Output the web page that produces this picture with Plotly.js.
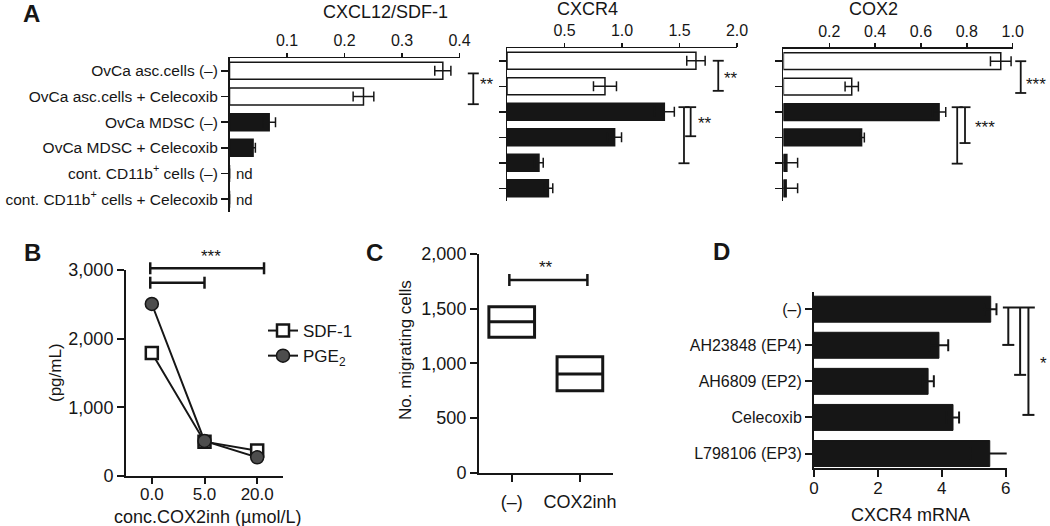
<!DOCTYPE html>
<html><head><meta charset="utf-8">
<script src="https://cdn.plot.ly/plotly-3.0.1.min.js"></script>
<style>html,body{margin:0;padding:0;background:#fff}#chart{width:1050px;height:526px}</style>
</head><body><div id="chart"></div>
<script>
// ---------------- data ----------------
const aCategories = ['OvCa asc.cells (–)', 'OvCa asc.cells + Celecoxib', 'OvCa MDSC (–)', 'OvCa MDSC + Celecoxib',
  'cont. CD11b<sup>+</sup> cells (–)', 'cont. CD11b<sup>+</sup> cells + Celecoxib'];
const sdfValues = [0.371, 0.233, 0.069, 0.041, 0, 0];
const sdfErrors = [0.014, 0.018, 0.011, 0.004, 0, 0];
const sdfNotDetected = ['', '', '', '', 'nd', 'nd'];
const cxcr4Values = [1.643, 0.852, 1.368, 0.936, 0.278, 0.36];
const cxcr4Errors = [0.08, 0.10, 0.087, 0.06, 0.037, 0.038];
const cox2Values = [0.948, 0.298, 0.679, 0.341, 0.015, 0.012];
const cox2Errors = [0.045, 0.029, 0.029, 0.012, 0.047, 0.05];

const bConc = ['0.0', '5.0', '20.0'];
const bSdf1 = [1790, 500, 370];
const bPge2 = [2505, 510, 272];

const cGroups = ['(–)', 'COX2inh'];
const cQ1 = [1238, 750];
const cMedian = [1381, 902];
const cQ3 = [1518, 1061];

const dTreatments = ['(–)', 'AH23848 (EP4)', 'AH6809 (EP2)', 'Celecoxib', 'L798106 (EP3)'];
const dValues = [5.53, 3.91, 3.57, 4.35, 5.5];
const dErrors = [0.18, 0.29, 0.18, 0.19, 0.6];

// significance brackets (in each panel's data units)
const vBrackets = [ // panel, x value, from row, to row
  ['a1', 0.424, 0.1, 1.3], ['a2', 1.837, 0, 1.18], ['a2', 1.597, 1.82, 2.96], ['a2', 1.539, 1.82, 4.02],
  ['a3', 1.035, 0, 1.25], ['a3', 0.792, 1.81, 3.22], ['a3', 0.758, 1.81, 4.03],
  ['d', 6.08, -0.05, 0.99], ['d', 6.45, -0.05, 1.82], ['d', 6.71, -0.05, 2.93]
];
const hBrackets = [ // panel, from category, to category, y value
  ['b', -0.03, 2.13, 3025], ['b', -0.03, 1.0, 2815], ['c', -0.035, 1.11, 1762]
];
const stars = [ // panel, x, y, text
  ['a1', 0.448, 0.55, '**'], ['a2', 1.95, 0.7, '**'], ['a2', 1.72, 2.45, '**'],
  ['a3', 1.1, 0.9, '***'], ['a3', 0.88, 2.6, '***'], ['d', 7.17, 1.5, '*'],
  ['b', 1.12, 3190, '***'], ['c', 0.5, 1880, '**']
];

// ---------------- geometry ----------------
const W = 1050, H = 526;
const GEO = {
  a1: {x: [229.5, 459.5], xr: [0, 0.4], y: [58, 212], yr: [5.5, -0.5]},
  a2: {x: [507, 737], xr: [0, 2], y: [48, 201], yr: [5.5, -0.5]},
  a3: {x: [783.4, 1012.7], xr: [0, 1], y: [48.5, 201], yr: [5.5, -0.5]},
  b: {x: [126, 283], xr: [-0.49, 2.49], y: [270, 476], yr: [0, 3000]},
  c: {x: [479, 613.3], xr: [-0.48, 1.49], y: [254, 472.7], yr: [0, 2000]},
  d: {x: [814, 1006.7], xr: [0, 6.03], y: [291.7, 468.3], yr: [4.41, -0.485]}
};
function pxX(ax, v) { const a = GEO[ax]; return a.x[0] + (v - a.xr[0]) / (a.xr[1] - a.xr[0]) * (a.x[1] - a.x[0]); }
function pxY(ax, v) { const a = GEO[ax]; return a.y[1] - (v - a.yr[0]) / (a.yr[1] - a.yr[0]) * (a.y[1] - a.y[0]); }
function dom(ax) { const a = GEO[ax]; return {x: [a.x[0] / W, a.x[1] / W], y: [1 - a.y[1] / H, 1 - a.y[0] / H]}; }

const FONT = 'Liberation Sans, Arial, Helvetica, sans-serif';
const INK = '#161616';

function seg(x0, y0, x1, y1, w) {
  return {type: 'line', xref: 'paper', yref: 'paper', x0: x0 / W, x1: x1 / W, y0: 1 - y0 / H, y1: 1 - y1 / H,
    line: {color: INK, width: w || 2}};
}
const shapes = [];
vBrackets.forEach(([ax, xv, r0, r1]) => {
  const x = pxX(ax, xv), y0 = pxY(ax, r0), y1 = pxY(ax, r1);
  const cap = ax === 'd' ? 6 : 5.5, w = ax === 'd' ? 2 : 1.8;
  shapes.push(seg(x, y0, x, y1, w));
  if (ax !== 'd') shapes.push(seg(x - cap, y0, x + cap, y0, w));
  shapes.push(seg(x - cap, y1, x + cap, y1, w));
});
// top bar of panel D brackets
{
  const ys = pxY('d', -0.05);
  shapes.push(seg(pxX('d', 5.91), ys, pxX('d', 6.91), ys, 2));
}
hBrackets.forEach(([ax, c0, c1, yv]) => {
  const y = pxY(ax, yv), x0 = pxX(ax, c0), x1 = pxX(ax, c1);
  shapes.push(seg(x0, y, x1, y, 2.5));
  shapes.push(seg(x0, y - 6, x0, y + 6, 2.5));
  shapes.push(seg(x1, y - 6, x1, y + 6, 2.5));
});

const annotations = [];
function ann(text, x, y, size, opts) {
  annotations.push(Object.assign({text: text, x: x / W, y: 1 - y / H, xref: 'paper', yref: 'paper', showarrow: false,
    xanchor: 'center', yanchor: 'middle', font: {family: FONT, size: size, color: INK}}, opts || {}));
}
stars.forEach(([ax, xv, yv, t]) => ann(t, pxX(ax, xv), pxY(ax, yv), 17));
// panel letters
ann('<b>A</b>', 31, 13, 24); ann('<b>B</b>', 32, 252, 24); ann('<b>C</b>', 374, 252, 24); ann('<b>D</b>', 721, 251, 24);
// panel A titles
ann('CXCL12/SDF-1', 385, 12, 18); ann('CXCR4', 587, 9, 18); ann('COX2', 873, 9, 18);
// axis titles
ann('(pg/mL)', 55, 373, 17, {textangle: -90});
ann('conc.COX2inh (µmol/L)', 207, 517, 18);
ann('No. migrating cells', 405, 350, 17, {textangle: -90});
ann('CXCR4 mRNA', 910, 515, 18);
// nd labels
sdfNotDetected.forEach((t, i) => {
  if (t) annotations.push({text: t, x: 0, y: aCategories[i], xref: 'x', yref: 'y', showarrow: false,
    xanchor: 'left', yanchor: 'middle', xshift: 4, font: {family: FONT, size: 15, color: INK}});
});

// ---------------- traces ----------------
const aFill = aCategories.map((_, i) => i < 2 ? '#ffffff' : INK);
function aBar(vals, errs, n) {
  return {type: 'bar', orientation: 'h', y: aCategories, x: vals, xaxis: 'x' + n, yaxis: 'y' + n, width: 0.66,
    marker: {color: aFill, line: {color: INK, width: 1.5}},
    error_x: {type: 'data', array: errs, visible: true, color: INK, thickness: 1.5, width: 5},
    showlegend: false, hoverinfo: 'skip'};
}
const traces = [
  aBar(sdfValues, sdfErrors, ''), aBar(cxcr4Values, cxcr4Errors, '2'), aBar(cox2Values, cox2Errors, '3'),
  {type: 'scatter', mode: 'lines+markers', name: 'SDF-1', x: bConc, y: bSdf1, xaxis: 'x4', yaxis: 'y4',
    line: {color: INK, width: 2}, marker: {symbol: 'square', size: 12, color: '#ffffff', line: {color: INK, width: 2.5}}},
  {type: 'scatter', mode: 'lines+markers', name: 'PGE<sub>2</sub>', x: bConc, y: bPge2, xaxis: 'x4', yaxis: 'y4',
    line: {color: INK, width: 2}, marker: {symbol: 'circle', size: 13, color: '#4d4d4d', line: {color: INK, width: 1.5}}},
  {type: 'box', x: cGroups, q1: cQ1, median: cMedian, q3: cQ3, lowerfence: cQ1, upperfence: cQ3,
    xaxis: 'x5', yaxis: 'y5', width: 0.67, whiskerwidth: 0, boxpoints: false, fillcolor: 'rgba(255,255,255,0)',
    line: {color: INK, width: 3}, showlegend: false, hoverinfo: 'skip'},
  {type: 'bar', orientation: 'h', y: dTreatments, x: dValues, xaxis: 'x6', yaxis: 'y6', width: 0.72,
    marker: {color: INK, line: {color: INK, width: 1}},
    error_x: {type: 'data', array: dErrors, visible: true, color: INK, thickness: 2, width: 6},
    showlegend: false, hoverinfo: 'skip'}
];

// ---------------- axes ----------------
const base = {showgrid: false, zeroline: false, fixedrange: true, showline: true, linecolor: INK, tickcolor: INK,
  ticks: 'outside'};
function aXaxis(ax, n, tv, tt) {
  return Object.assign({}, base, {domain: dom(ax).x, range: GEO[ax].xr, anchor: 'y' + n, side: 'top', linewidth: 1.5,
    ticklen: 4, tickwidth: 1.5, tickvals: tv, ticktext: tt, tickfont: {family: FONT, size: 16, color: INK}});
}
function aYaxis(ax, n, labels) {
  return Object.assign({}, base, {domain: dom(ax).y, range: GEO[ax].yr, type: 'category', anchor: 'x' + n,
    linewidth: 1.5, ticklen: 7, tickwidth: 1.5, showticklabels: labels, tickfont: {family: FONT, size: 15.5, color: INK}});
}
const layout = {
  width: W, height: H, autosize: false, margin: {l: 0, r: 0, t: 0, b: 0},
  paper_bgcolor: '#ffffff', plot_bgcolor: 'rgba(0,0,0,0)', font: {family: FONT, color: INK},
  bargap: 0,
  xaxis: aXaxis('a1', '', [0.1, 0.2, 0.3, 0.4], ['0.1', '0.2', '0.3', '0.4']),
  yaxis: aYaxis('a1', '', true),
  xaxis2: aXaxis('a2', '2', [0.5, 1, 1.5, 2], ['0.5', '1.0', '1.5', '2.0']),
  yaxis2: aYaxis('a2', '2', false),
  xaxis3: aXaxis('a3', '3', [0.2, 0.4, 0.6, 0.8, 1.0], ['0.2', '0.4', '0.6', '0.8', '1.0']),
  yaxis3: aYaxis('a3', '3', false),
  xaxis4: Object.assign({}, base, {domain: dom('b').x, range: GEO.b.xr, type: 'category', anchor: 'y4',
    linewidth: 2, ticklen: 6, tickwidth: 2, ticklabelstandoff: -4, tickfont: {family: FONT, size: 17, color: INK}}),
  yaxis4: Object.assign({}, base, {domain: dom('b').y, range: GEO.b.yr, anchor: 'x4', linewidth: 2, ticklen: 7,
    tickwidth: 2, tickvals: [0, 1000, 2000, 3000], tickformat: ',', tickfont: {family: FONT, size: 18, color: INK}}),
  xaxis5: Object.assign({}, base, {domain: dom('c').x, range: GEO.c.xr, type: 'category', anchor: 'y5',
    linewidth: 2, ticklen: 7, tickwidth: 2, ticklabelstandoff: 5, tickfont: {family: FONT, size: 18, color: INK}}),
  yaxis5: Object.assign({}, base, {domain: dom('c').y, range: GEO.c.yr, anchor: 'x5', linewidth: 2, ticklen: 7,
    tickwidth: 2, tickvals: [0, 500, 1000, 1500, 2000], tickformat: ',', tickfont: {family: FONT, size: 18, color: INK}}),
  xaxis6: Object.assign({}, base, {domain: dom('d').x, range: GEO.d.xr, anchor: 'y6', linewidth: 2, ticklen: 7,
    tickwidth: 2, ticklabelstandoff: -4, tickvals: [0, 2, 4, 6], tickfont: {family: FONT, size: 17, color: INK}}),
  yaxis6: Object.assign({}, base, {domain: dom('d').y, range: GEO.d.yr, type: 'category', anchor: 'x6',
    linewidth: 2, ticklen: 7, tickwidth: 2, tickfont: {family: FONT, size: 16, color: INK}}),
  showlegend: true,
  legend: {x: 263 / W, y: 1 - 313 / H, xanchor: 'left', yanchor: 'top', bgcolor: 'rgba(0,0,0,0)',
    font: {family: FONT, size: 17, color: INK}, itemwidth: 30, tracegroupgap: 0},
  shapes: shapes, annotations: annotations
};
Plotly.newPlot('chart', traces, layout, {displayModeBar: false, staticPlot: true});
</script></body></html>
